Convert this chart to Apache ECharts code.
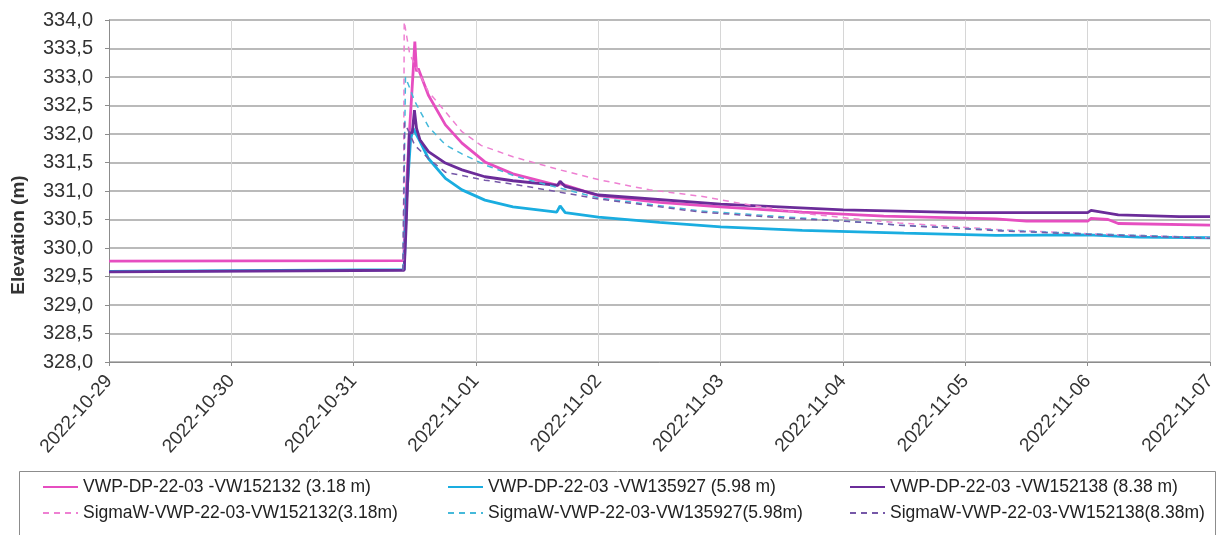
<!DOCTYPE html>
<html>
<head>
<meta charset="utf-8">
<script src="https://cdn.jsdelivr.net/npm/echarts@6/dist/echarts.min.js"></script>
<style>
html,body{margin:0;padding:0;background:#fff;}
#chart{width:1223px;height:535px;}
</style>
</head>
<body>
<div id="chart"></div>
<script>
// ---- data ----
const seriesNames = [
  'VWP-DP-22-03 -VW152132 (3.18 m)',
  'VWP-DP-22-03 -VW135927 (5.98 m)',
  'VWP-DP-22-03 -VW152138 (8.38 m)',
  'SigmaW-VWP-22-03-VW152132(3.18m)',
  'SigmaW-VWP-22-03-VW135927(5.98m)',
  'SigmaW-VWP-22-03-VW152138(8.38m)'
];

const xMinDate = '2022-10-29 00:00';
const xMaxDate = '2022-11-07 00:00';
const yTicks = [328.0, 328.5, 329.0, 329.5, 330.0, 330.5, 331.0, 331.5, 332.0, 332.5, 333.0, 333.5, 334.0];

const vw152132 = [
  ['2022-10-29 00:00', 329.77], ['2022-10-31 09:50', 329.78], ['2022-10-31 10:05', 330.6],
  ['2022-10-31 10:55', 332.0], ['2022-10-31 11:40', 333.1], ['2022-10-31 12:00', 333.62],
  ['2022-10-31 12:20', 333.1], ['2022-10-31 12:40', 333.15], ['2022-10-31 14:40', 332.68],
  ['2022-10-31 18:00', 332.16], ['2022-10-31 21:15', 331.84], ['2022-11-01 01:45', 331.51],
  ['2022-11-01 07:15', 331.3], ['2022-11-01 16:00', 331.1], ['2022-11-01 16:30', 331.13],
  ['2022-11-02 00:00', 330.92], ['2022-11-02 12:00', 330.8], ['2022-11-03 00:00', 330.72],
  ['2022-11-03 16:00', 330.63], ['2022-11-04 08:00', 330.56], ['2022-11-05 06:00', 330.51],
  ['2022-11-05 12:00', 330.47], ['2022-11-06 00:00', 330.47], ['2022-11-06 00:40', 330.52],
  ['2022-11-06 04:00', 330.5], ['2022-11-06 06:00', 330.43], ['2022-11-07 00:00', 330.40]
];

const vw135927 = [
  ['2022-10-29 00:00', 329.59], ['2022-10-31 09:55', 329.62], ['2022-10-31 10:20', 330.8],
  ['2022-10-31 11:10', 331.9], ['2022-10-31 11:40', 332.1], ['2022-10-31 12:40', 331.93],
  ['2022-10-31 14:40', 331.57], ['2022-10-31 18:00', 331.22], ['2022-10-31 21:15', 331.02],
  ['2022-11-01 01:45', 330.84], ['2022-11-01 07:15', 330.72], ['2022-11-01 15:50', 330.63],
  ['2022-11-01 16:30', 330.74], ['2022-11-01 17:30', 330.62], ['2022-11-02 00:00', 330.54],
  ['2022-11-02 12:00', 330.45], ['2022-11-03 00:00', 330.37], ['2022-11-03 16:00', 330.31],
  ['2022-11-04 12:00', 330.26], ['2022-11-05 06:00', 330.22], ['2022-11-06 00:00', 330.23],
  ['2022-11-06 10:00', 330.19], ['2022-11-07 00:00', 330.18]
];

const vw152138 = [
  ['2022-10-29 00:00', 329.58], ['2022-10-31 09:55', 329.61], ['2022-10-31 10:20', 330.46],
  ['2022-10-31 10:55', 332.02], ['2022-10-31 11:30', 332.02], ['2022-10-31 11:55', 332.42],
  ['2022-10-31 12:20', 332.1], ['2022-10-31 13:00', 331.9], ['2022-10-31 14:40', 331.69],
  ['2022-10-31 18:00', 331.49], ['2022-10-31 21:15', 331.37], ['2022-11-01 01:45', 331.25],
  ['2022-11-01 07:15', 331.18], ['2022-11-01 16:00', 331.1], ['2022-11-01 16:30', 331.17],
  ['2022-11-01 17:30', 331.08], ['2022-11-02 00:00', 330.93], ['2022-11-03 00:00', 330.77],
  ['2022-11-04 00:00', 330.67], ['2022-11-05 00:00', 330.62], ['2022-11-06 00:00', 330.62],
  ['2022-11-06 00:40', 330.66], ['2022-11-06 06:00', 330.58], ['2022-11-06 18:00', 330.55],
  ['2022-11-07 00:00', 330.55]
];

const sigma152132 = [
  ['2022-10-31 09:45', 329.78], ['2022-10-31 09:55', 333.97], ['2022-10-31 11:00', 333.4],
  ['2022-10-31 14:40', 332.74], ['2022-10-31 18:00', 332.39], ['2022-10-31 21:15', 332.04],
  ['2022-11-01 01:00', 331.8], ['2022-11-01 07:15', 331.6], ['2022-11-01 16:30', 331.37],
  ['2022-11-02 00:00', 331.2], ['2022-11-02 10:00', 331.02], ['2022-11-02 20:00', 330.91],
  ['2022-11-03 06:00', 330.75], ['2022-11-03 16:00', 330.61], ['2022-11-04 01:30', 330.52],
  ['2022-11-04 11:00', 330.44], ['2022-11-05 07:00', 330.32], ['2022-11-06 00:00', 330.25],
  ['2022-11-07 00:00', 330.18]
];

const sigma135927 = [
  ['2022-10-31 09:40', 329.62], ['2022-10-31 10:10', 333.0], ['2022-10-31 12:00', 332.57],
  ['2022-10-31 14:40', 332.13], ['2022-10-31 18:00', 331.81], ['2022-10-31 21:15', 331.65],
  ['2022-11-01 02:00', 331.45], ['2022-11-01 08:00', 331.25], ['2022-11-01 16:30', 331.05],
  ['2022-11-02 00:00', 330.88], ['2022-11-02 20:00', 330.65], ['2022-11-03 12:00', 330.55],
  ['2022-11-04 04:00', 330.45], ['2022-11-04 11:00', 330.4], ['2022-11-05 07:00', 330.31],
  ['2022-11-06 00:00', 330.25], ['2022-11-07 00:00', 330.18]
];

const sigma152138 = [
  ['2022-10-31 09:40', 329.6], ['2022-10-31 10:00', 332.2], ['2022-10-31 12:00', 331.8],
  ['2022-10-31 14:40', 331.57], ['2022-10-31 18:00', 331.33], ['2022-11-01 01:45', 331.19],
  ['2022-11-01 07:15', 331.12], ['2022-11-01 16:30', 330.98], ['2022-11-02 00:00', 330.86],
  ['2022-11-02 20:00', 330.63], ['2022-11-03 12:00', 330.53], ['2022-11-04 04:00', 330.45],
  ['2022-11-04 11:00', 330.4], ['2022-11-05 07:00', 330.3], ['2022-11-06 00:00', 330.24],
  ['2022-11-07 00:00', 330.17]
];

// ---- helpers ----
const DAY = 86400000;
function ts(s) {
  const m = s.match(/(\d+)-(\d+)-(\d+)\s+(\d+):(\d+)/);
  return Date.UTC(+m[1], +m[2] - 1, +m[3], +m[4], +m[5]);
}
function conv(arr) { return arr.map(p => [ts(p[0]), p[1]]); }
function pad(n) { return (n < 10 ? '0' : '') + n; }
function fmtDate(v) {
  const d = new Date(v);
  return d.getUTCFullYear() + '-' + pad(d.getUTCMonth() + 1) + '-' + pad(d.getUTCDate());
}

const FONT = '"Liberation Sans", Arial, sans-serif';
const colors = ['#E64EC0', '#1AADE0', '#6B2C99', '#EE80D2', '#45B9DA', '#7658A8'];
const allData = [vw152132, vw135927, vw152138, sigma152132, sigma135927, sigma152138];

const series = allData.map((d, i) => ({
  name: seriesNames[i],
  type: 'line',
  data: conv(d),
  symbol: 'none',
  showSymbol: false,
  animation: false,
  z: i < 3 ? 3 : 4,
  lineStyle: i < 3
    ? { color: colors[i], width: 2.8 }
    : { color: colors[i], width: 1.5, type: [6, 5] },
  itemStyle: { color: colors[i] }
}));

function legendCol(left, names) {
  return {
    orient: 'vertical',
    left: left,
    top: 478,
    itemWidth: 35,
    itemHeight: 18,
    itemGap: 8,
    padding: 0,
    data: names,
    itemStyle: { opacity: 0 },
    textStyle: { fontFamily: FONT, fontSize: 17.5, color: '#222', lineHeight: 18 }
  };
}

const chart = echarts.init(document.getElementById('chart'), null, { renderer: 'canvas' });
chart.setOption({
  animation: false,
  backgroundColor: '#fff',
  grid: { left: 109, right: 13, top: 20, bottom: 173, containLabel: false },
  xAxis: {
    type: 'value',
    min: ts(xMinDate),
    max: ts(xMaxDate),
    interval: DAY,
    axisLine: { show: true, lineStyle: { color: '#8c8c8c', width: 1 } },
    axisTick: { show: true, length: 4, lineStyle: { color: '#8c8c8c' } },
    splitLine: { show: true, lineStyle: { color: '#d6d6d6', width: 1 } },
    axisLabel: {
      rotate: 48,
      margin: 16,
      fontFamily: FONT,
      fontSize: 19,
      color: '#333',
      formatter: fmtDate
    }
  },
  yAxis: {
    type: 'value',
    min: yTicks[0],
    max: yTicks[yTicks.length - 1],
    interval: 0.5,
    axisLine: { show: true, lineStyle: { color: '#8c8c8c', width: 1 } },
    axisTick: { show: true, length: 4, lineStyle: { color: '#8c8c8c' } },
    splitLine: { show: true, lineStyle: { color: '#a3a3a3', width: 1.6 } },
    axisLabel: {
      margin: 16,
      fontFamily: FONT,
      fontSize: 20,
      color: '#333',
      formatter: v => v.toFixed(1).replace('.', ',')
    }
  },
  legend: [
    legendCol(42, [seriesNames[0], seriesNames[3]]),
    legendCol(447, [seriesNames[1], seriesNames[4]]),
    legendCol(849, [seriesNames[2], seriesNames[5]])
  ],
  graphic: [
    {
      type: 'rect',
      left: 17, top: 469,
      shape: { width: 1196, height: 80 },
      style: { fill: 'none', stroke: '#8c8c8c', lineWidth: 1 },
      silent: true
    },
    {
      type: 'text',
      x: 19, y: 235,
      rotation: Math.PI / 2,
      style: {
        text: 'Elevation (m)',
        font: 'bold 19px "Liberation Sans", Arial, sans-serif',
        fill: '#333',
        textAlign: 'center',
        textVerticalAlign: 'middle'
      },
      silent: true
    }
  ],
  series: series
});
</script>
</body>
</html>
